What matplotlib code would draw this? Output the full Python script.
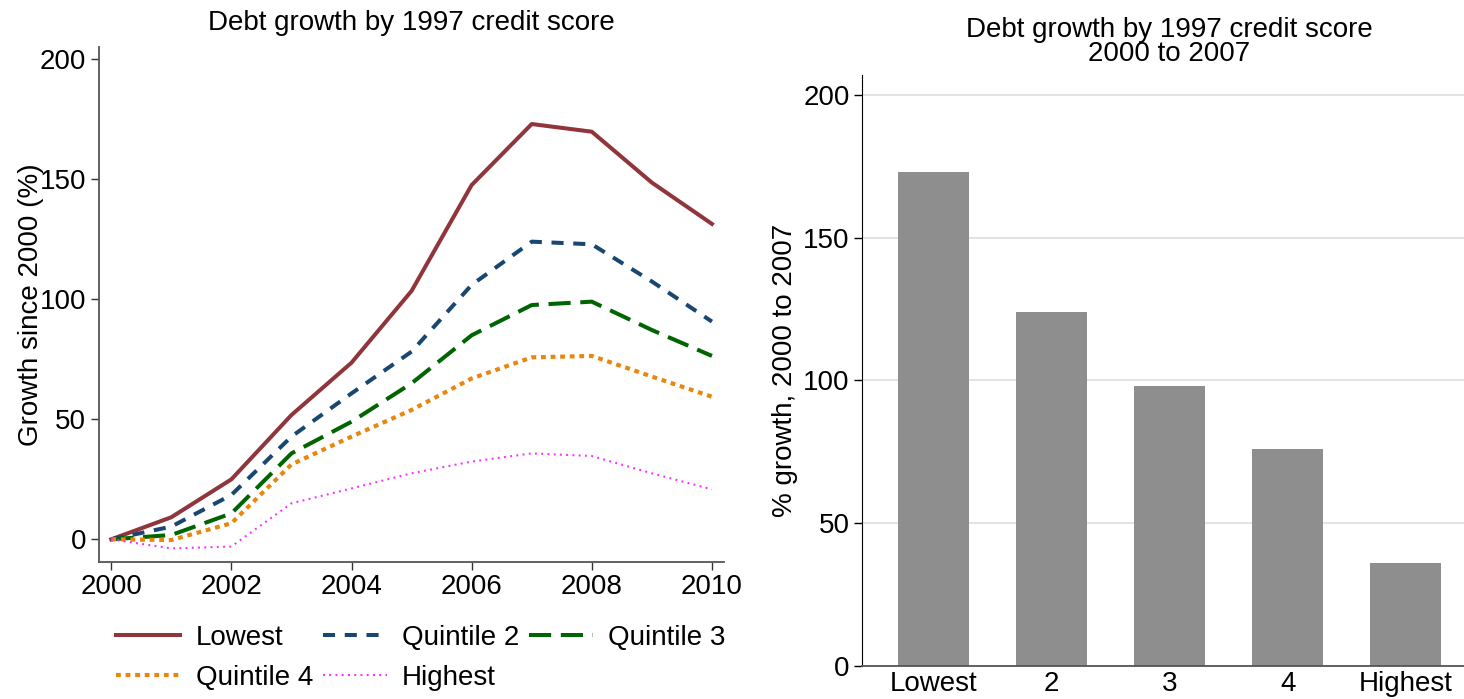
import matplotlib
matplotlib.use('Agg')
import matplotlib.pyplot as plt

plt.rcParams['font.family'] = ['Liberation Sans', 'DejaVu Sans']

# Data
years = [2000, 2001, 2002, 2003, 2004, 2005, 2006, 2007, 2008, 2009, 2010]
lowest = [0, 9.2, 25, 51.8, 73.6, 103.5, 147.6, 173, 169.8, 148.6, 131.4]
quint2 = [0, 5.3, 18.5, 42.8, 60.8, 78.2, 106, 124, 122.9, 107.4, 90.7]
quint3 = [0, 1.8, 10.8, 35.8, 49, 65, 85, 97.6, 99, 87.2, 76.4]
quint4 = [0, -0.3, 6.7, 31.2, 42.8, 53.9, 67, 75.8, 76.4, 67.8, 59.4]
highest = [0, -3.8, -3, 15, 21.2, 27.5, 32.4, 35.8, 34.7, 27.5, 20.8]

bar_labels = ['Lowest', '2', '3', '4', 'Highest']
bar_values = [173, 124, 98, 76, 36]

FS = 20

fig = plt.figure(figsize=(14.64, 6.99), dpi=100)

# ---- left panel: line chart ----
ax1 = fig.add_axes([0.0674, 0.1964, 0.4273, 0.7364])
l1, = ax1.plot(years, lowest, color='#90353b', lw=2.9, label='Lowest')
l2, = ax1.plot(years, quint2, color='#1a476f', lw=2.9, dashes=(3, 2.4),
               label='Quintile 2')
l3, = ax1.plot(years, quint3, color='#006400', lw=2.9, dashes=(5.5, 2.4),
               label='Quintile 3')
l4, = ax1.plot(years, quint4, color='#e8870e', lw=3.0, dashes=(1.15, 1.15),
               label='Quintile 4')
l5, = ax1.plot(years, highest, color='#ff2aff', lw=1.5, dashes=(0.9, 2.1),
               label='Highest')
for ln in (l2, l3, l4, l5):
    ln.set_dash_capstyle('butt')

ax1.set_xlim(1999.79, 2010.205)
ax1.set_ylim(-9.33, 205.1)
ax1.set_xticks(range(2000, 2011, 2))
ax1.set_yticks([0, 50, 100, 150, 200])
for s in ['top', 'right']:
    ax1.spines[s].set_visible(False)
for s in ['left', 'bottom']:
    ax1.spines[s].set_color('#555555')
    ax1.spines[s].set_linewidth(1.3)
ax1.tick_params(labelsize=FS, length=6, width=1, pad=3, color='#333333')
ax1.set_title('Debt growth by 1997 credit score', fontsize=FS, pad=12)
ax1.set_ylabel('Growth since 2000 (%)', fontsize=FS)
ax1.yaxis.set_label_coords(-0.088, 0.5)

# legend, filled row by row like the original
handles = [l1, l4, l2, l5, l3]
fig.legend(handles, [h.get_label() for h in handles], ncol=3,
           loc='center', bbox_to_anchor=(0.2875, 0.059), frameon=False,
           fontsize=FS, handlelength=2.3, handletextpad=0.55,
           columnspacing=0.35, labelspacing=0.5)

# ---- right panel: bar chart ----
ax2 = fig.add_axes([0.589, 0.0476, 0.4197, 0.8447])
xpos = range(len(bar_labels))
ax2.bar(xpos, bar_values, width=0.6, color='#8e8e8e', zorder=2)
ax2.set_xlim(-0.6, 4.6)
ax2.set_ylim(0, 206.9)
ax2.set_yticks([0, 50, 100, 150, 200])
ax2.set_xticks(list(xpos))
ax2.set_xticklabels(bar_labels)
ax2.yaxis.grid(True, color='#e0e0e0', lw=1.3, zorder=0)
ax2.set_axisbelow(True)
for s in ['top', 'right']:
    ax2.spines[s].set_visible(False)
ax2.spines['left'].set_color('black')
ax2.spines['bottom'].set_color('#555555')
ax2.spines['bottom'].set_linewidth(1.3)
ax2.tick_params(axis='y', labelsize=FS, length=6, width=1, pad=3)
ax2.tick_params(axis='x', labelsize=FS, length=0, pad=4)
ax2.set_title('Debt growth by 1997 credit score\n2000 to 2007', fontsize=FS,
              pad=10, linespacing=0.92)
ax2.set_ylabel('% growth, 2000 to 2007', fontsize=FS)
ax2.yaxis.set_label_coords(-0.104, 0.5)

fig.savefig('out.png', dpi=100)
